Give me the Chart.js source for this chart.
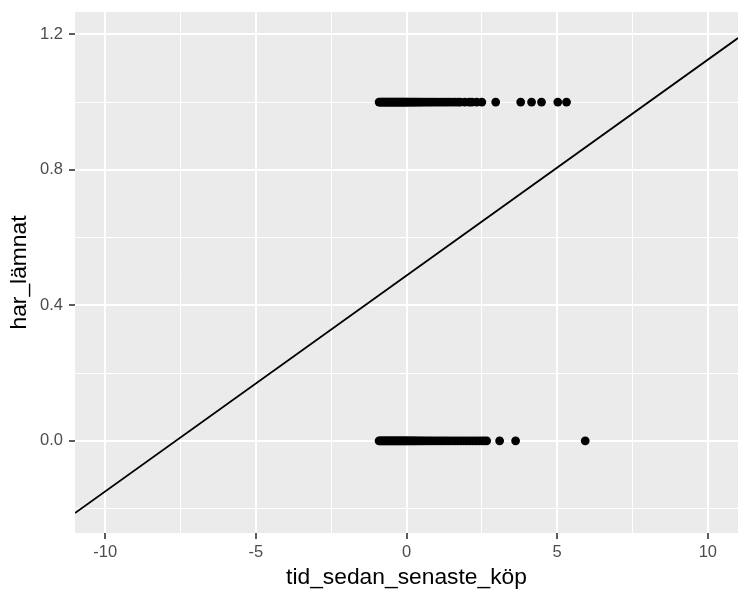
<!DOCTYPE html>
<html>
<head>
<meta charset="utf-8">
<script src="https://cdn.jsdelivr.net/npm/chart.js@4"></script>
<style>
  html, body { margin: 0; padding: 0; background: #ffffff; }
  canvas { display: block; }
</style>
</head>
<body>
<canvas id="c" width="750" height="600"></canvas>
<script>
// x values of observations with har_lämnat = 1
const leftX = [-0.91,-0.87,-0.83,-0.79,-0.75,-0.71,-0.67,-0.63,-0.59,-0.55,-0.51,-0.47,-0.43,-0.39,-0.35,-0.31,-0.27,-0.23,-0.19,-0.15,-0.11,-0.07,-0.03,0.01,0.05,0.1,0.15,0.2,0.25,0.3,0.36,0.42,0.48,0.55,0.62,0.7,0.78,0.86,0.95,1.04,1.13,1.22,1.31,1.4,1.5,1.6,1.7,1.78,1.93,2.08,2.17,2.33,2.5,2.96,3.79,4.15,4.48,5.02,5.31];
// x values of observations with har_lämnat = 0
const stayX = [-0.91,-0.87,-0.83,-0.79,-0.75,-0.71,-0.67,-0.63,-0.59,-0.55,-0.51,-0.47,-0.43,-0.39,-0.35,-0.31,-0.27,-0.23,-0.19,-0.15,-0.11,-0.07,-0.03,0.01,0.05,0.1,0.15,0.2,0.25,0.3,0.36,0.42,0.48,0.55,0.62,0.7,0.78,0.86,0.95,1.04,1.13,1.22,1.31,1.4,1.5,1.6,1.7,1.8,1.9,2.0,2.1,2.2,2.3,2.4,2.5,2.58,2.66,3.09,3.62,5.93];
// fitted line endpoints
const lineX = [-11, 11];
const lineY = [-0.213, 1.189];
// axis ticks
const xTicks = [-10, -7.5, -5, -2.5, 0, 2.5, 5, 7.5, 10];
const xMajor = [-10, -5, 0, 5, 10];
const yTicks = [-0.2, 0, 0.2, 0.4, 0.6, 0.8, 1.0, 1.2];
const yMajor = [0, 0.4, 0.8, 1.2];
const xLimits = [-11, 11];
const yLimits = [-0.272, 1.266];

const isMajor = (arr, v) => arr.some(m => Math.abs(m - v) < 1e-6);

const panelBg = {
  id: 'panelBg',
  beforeDraw(chart) {
    const {ctx, chartArea: a} = chart;
    ctx.save();
    ctx.fillStyle = '#EBEBEB';
    ctx.fillRect(a.left, a.top, a.right - a.left, a.bottom - a.top);
    ctx.restore();
  }
};

const tickFont = { family: '"Liberation Sans", Arial, sans-serif', size: 16.5 };
const titleFont = { family: '"Liberation Sans", Arial, sans-serif', size: 22.8 };

new Chart(document.getElementById('c'), {
  type: 'scatter',
  data: {
    datasets: [
      {
        data: leftX.map(x => ({x, y: 1})),
        backgroundColor: '#000000',
        borderWidth: 0,
        pointRadius: 4.4,
        pointHoverRadius: 4.4
      },
      {
        data: stayX.map(x => ({x, y: 0})),
        backgroundColor: '#000000',
        borderWidth: 0,
        pointRadius: 4.4,
        pointHoverRadius: 4.4
      },
      {
        data: lineX.map((x, i) => ({x, y: lineY[i]})),
        showLine: true,
        borderColor: '#000000',
        borderWidth: 1.8,
        pointRadius: 0,
        fill: false
      }
    ]
  },
  options: {
    responsive: false,
    animation: false,
    devicePixelRatio: 1,
    layout: { padding: { top: 12, right: 12, left: 0, bottom: 0 } },
    plugins: { legend: { display: false }, tooltip: { enabled: false } },
    scales: {
      x: {
        type: 'linear',
        min: xLimits[0],
        max: xLimits[1],
        afterBuildTicks(scale) { scale.ticks = xTicks.map(v => ({value: v})); },
        afterFit(scale) { scale.height = 67; scale.paddingLeft = 0; scale.paddingRight = 0; },
        border: { display: false },
        grid: {
          color: '#FFFFFF',
          lineWidth: ctx => isMajor(xMajor, ctx.tick.value) ? 2 : 1,
          tickColor: ctx => isMajor(xMajor, ctx.tick.value) ? '#333333' : 'rgba(0,0,0,0)',
          tickWidth: 1.6,
          tickLength: 6,
          drawTicks: true
        },
        ticks: {
          color: '#4D4D4D',
          font: tickFont,
          padding: 3.5,
          maxRotation: 0,
          autoSkip: false,
          callback: v => isMajor(xMajor, v) ? String(v) : ''
        },
        title: {
          display: true,
          text: 'tid_sedan_senaste_köp',
          color: '#000000',
          font: titleFont,
          padding: { top: 0, bottom: 9 }
        }
      },
      y: {
        type: 'linear',
        min: yLimits[0],
        max: yLimits[1],
        afterBuildTicks(scale) { scale.ticks = yTicks.map(v => ({value: v})); },
        afterFit(scale) { scale.width = 75; scale.paddingTop = 0; scale.paddingBottom = 0; },
        border: { display: false },
        grid: {
          color: '#FFFFFF',
          lineWidth: ctx => isMajor(yMajor, ctx.tick.value) ? 2 : 1,
          tickColor: ctx => isMajor(yMajor, ctx.tick.value) ? '#333333' : 'rgba(0,0,0,0)',
          tickWidth: 1.6,
          tickLength: 6,
          drawTicks: true
        },
        ticks: {
          color: '#4D4D4D',
          font: tickFont,
          padding: 6,
          autoSkip: false,
          callback: v => isMajor(yMajor, v) ? Number(v).toFixed(1) : ''
        },
        title: {
          display: true,
          text: 'har_lämnat',
          color: '#000000',
          font: titleFont,
          padding: { top: 6, bottom: 0 }
        }
      }
    }
  },
  plugins: [panelBg]
});
</script>
</body>
</html>
